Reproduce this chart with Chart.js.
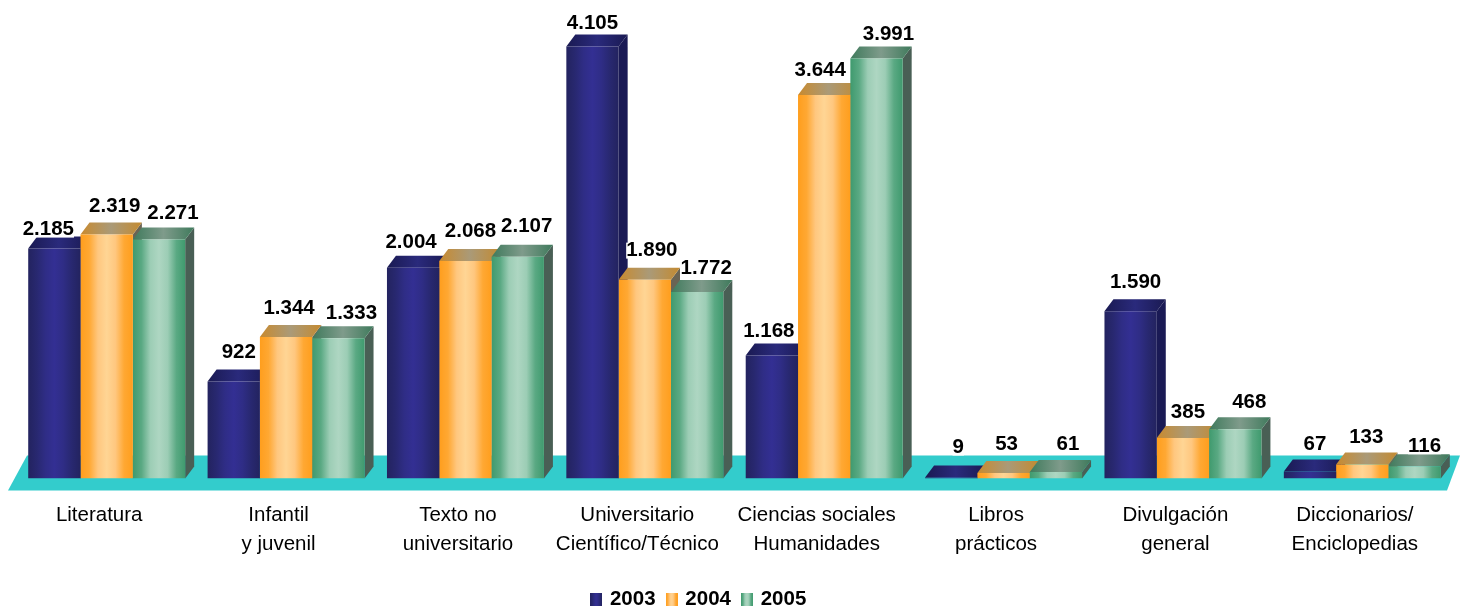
<!DOCTYPE html>
<html>
<head>
<meta charset="utf-8">
<style>
  html, body { margin: 0; padding: 0; background: #fff; }
  #wrap { width: 1460px; height: 608px; }
</style>
<script src="https://cdn.jsdelivr.net/npm/chart.js@4"></script>
</head>
<body>
<div id="wrap"><canvas id="myChart" width="1460" height="608"></canvas></div>
<script>
let categories = [
  'Literatura',
  ['Infantil', 'y juvenil'],
  ['Texto no', 'universitario'],
  ['Universitario', 'Científico/Técnico'],
  ['Ciencias sociales', 'Humanidades'],
  ['Libros', 'prácticos'],
  ['Divulgación', 'general'],
  ['Diccionarios/', 'Enciclopedias']
];
let values2003 = [2185, 922, 2004, 4105, 1168, 9, 1590, 67];
let values2004 = [2319, 1344, 2068, 1890, 3644, 53, 385, 133];
let values2005 = [2271, 1333, 2107, 1772, 3991, 61, 468, 116];

// the original labels were placed by hand, so each one has its own nudge from the bar centre / bar top
let labelDx2003 = [-6, 5, -2, 0, -3, 7, 5, 5];
let labelDx2004 = [8, 3, 5, 7, -4, 3, 5, 4];
let labelDx2005 = [14, 13, 9, 9, 12, 12, 14, 10];
let labelDy2003 = [-7, -17, -13, -11, -12, -18, -17, -15];
let labelDy2004 = [-16, -17, -18, -17, -13, -17, -14, -15];
let labelDy2005 = [-14, -13, -18, -12, -12, -16, -15, -8];

let depthX = 9;
let depthY = 12;
let font = '"Liberation Sans", Arial, sans-serif';

let palette = [
  { front: ['#23235f', '#282870', '#2f2d86', '#332f93', '#2f2d86', '#282870', '#23235f'], top: ['#1a1a52', '#2a2a7c', '#1a1a52'], side: '#1a1a55' },
  { front: ['#ff9e1d', '#ffa833', '#ffc77f', '#ffd594', '#ffc77f', '#ffa833', '#ff9e1d'], top: ['#c98a2e', '#aa9a78', '#c48a30'], side: '#6a6454' },
  { front: ['#3f9a6e', '#5aa983', '#9ccdb5', '#aed6c2', '#9ccdb5', '#5aa983', '#3f9a6e'], top: ['#3f7a5c', '#7f9b8b', '#3f7a5c'], side: '#495f55' }
];

function stops(g, cols) {
  cols.forEach((c, i) => {
    g.addColorStop(i / (cols.length - 1), c);
  });
  return g;
}

// horizontal sheen for one bar, worked out from the category scale
function frontFill(context) {
  let chart = context.chart;
  let x = chart.scales.x;
  if (!x || context.dataIndex === undefined) return palette[context.datasetIndex].front[0];
  let groupW = (x.getPixelForValue(1) - x.getPixelForValue(0)) * 0.875;
  let barW = groupW / 3;
  let left = x.getPixelForValue(context.dataIndex) - groupW / 2 + barW * context.datasetIndex;
  let g = chart.ctx.createLinearGradient(left, 0, left + barW, 0);
  return stops(g, palette[context.datasetIndex].front);
}

function swatch(cols) {
  let c = document.createElement('canvas');
  c.width = 12;
  c.height = 13;
  let x = c.getContext('2d');
  x.fillStyle = stops(x.createLinearGradient(0, 0, 12, 0), cols);
  x.fillRect(0, 0, 12, 13);
  return c;
}

let bars3d = {
  id: 'bars3d',
  afterLayout(chart) {
    // legend sits lower and left of the canvas centre in the original
    chart.legend.left -= 35;
    chart.legend.right -= 35;
    chart.legend.top += 12;
    chart.legend.bottom += 12;
  },
  beforeDatasetsDraw(chart) {
    let c = chart.ctx;
    let y0 = chart.scales.y.getPixelForValue(0);
    let area = chart.chartArea;
    // teal floor
    c.save();
    c.fillStyle = '#33cccc';
    c.beginPath();
    c.moveTo(area.left - 9, y0 + 12);
    c.lineTo(area.right - 5, y0 + 12);
    c.lineTo(area.right + 8, y0 - 23);
    c.lineTo(area.left + 10, y0 - 23);
    c.closePath();
    c.fill();
    // side and top faces, series by series so the later ones sit in front
    chart.data.datasets.forEach((ds, d) => {
      let meta = chart.getDatasetMeta(d);
      meta.data.forEach((bar) => {
        let half = bar.width / 2;
        let l = bar.x - half;
        let r = bar.x + half;
        c.fillStyle = palette[d].side;
        c.beginPath();
        c.moveTo(r, bar.y);
        c.lineTo(r + depthX, bar.y - depthY);
        c.lineTo(r + depthX, y0 - depthY);
        c.lineTo(r, y0);
        c.closePath();
        c.fill();
        c.fillStyle = stops(c.createLinearGradient(l, 0, r + depthX, 0), palette[d].top);
        c.beginPath();
        c.moveTo(l, bar.y);
        c.lineTo(r, bar.y);
        c.lineTo(r + depthX, bar.y - depthY);
        c.lineTo(l + depthX, bar.y - depthY);
        c.closePath();
        c.fill();
      });
    });
    c.restore();
  },
  afterDatasetsDraw(chart) {
    let c = chart.ctx;
    let dx = [labelDx2003, labelDx2004, labelDx2005];
    let dy = [labelDy2003, labelDy2004, labelDy2005];
    c.save();
    c.font = 'bold 20.5px ' + font;
    c.textAlign = 'center';
    c.textBaseline = 'middle';
    chart.data.datasets.forEach((ds, d) => {
      chart.getDatasetMeta(d).data.forEach((bar, i) => {
        let text = String(ds.data[i]).replace(/(\d)(\d{3})$/, '$1.$2');
        let px = bar.x + dx[d][i];
        let py = bar.y - depthY + dy[d][i];
        let w = c.measureText(text).width;
        c.fillStyle = '#ffffff';
        c.fillRect(px - w / 2, py - 8, w, 16);
        c.fillStyle = '#000000';
        c.fillText(text, px, py);
      });
    });
    c.restore();
  }
};

let ctx = document.getElementById('myChart').getContext('2d');

let myChart = new Chart(ctx, {
  type: 'bar',
  data: {
    labels: categories,
    datasets: [
      { label: '2003', data: values2003, backgroundColor: frontFill },
      { label: '2004', data: values2004, backgroundColor: frontFill },
      { label: '2005', data: values2005, backgroundColor: frontFill }
    ]
  },
  options: {
    responsive: false,
    animation: false,
    layout: { padding: { left: 17, right: 8, top: 5, bottom: 0 } },
    datasets: { bar: { categoryPercentage: 0.875, barPercentage: 1, borderWidth: 0 } },
    scales: {
      x: {
        grid: { display: false },
        border: { display: false },
        ticks: {
          color: '#000',
          autoSkip: false,
          maxRotation: 0,
          minRotation: 0,
          padding: 14,
          labelOffset: -7.5,
          font: { family: font, size: 20.5, lineHeight: 1.415 }
        },
        afterFit(scale) {
          scale.height = 86.5;
        }
      },
      y: { display: false, min: 0, max: 4500 }
    },
    plugins: {
      tooltip: { enabled: false },
      legend: {
        position: 'bottom',
        labels: {
          color: '#000',
          font: { family: font, size: 20.5, weight: 'bold' },
          usePointStyle: true,
          boxWidth: 7,
          boxHeight: 13,
          padding: 12.5,
          generateLabels(chart) {
            return chart.data.datasets.map((ds, i) => ({
              text: ds.label,
              pointStyle: swatch(palette[i].front),
              fontColor: '#000',
              hidden: false,
              datasetIndex: i
            }));
          }
        }
      }
    }
  },
  plugins: [bars3d]
});
</script>
</body>
</html>
